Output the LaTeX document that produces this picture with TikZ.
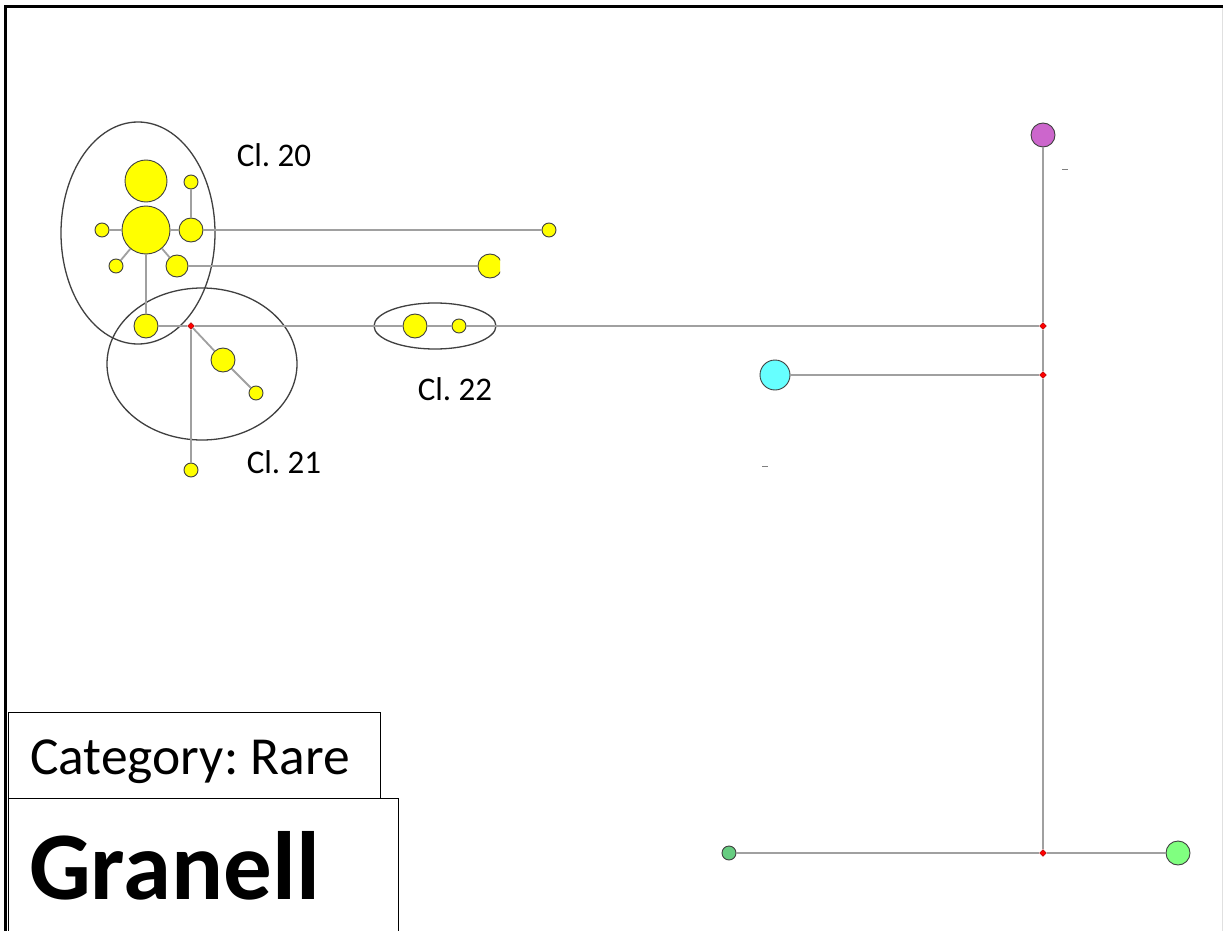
\documentclass[tikz,border=0pt]{standalone}
\usepackage{fontspec}
\setmainfont{Carlito}
\usetikzlibrary{shapes.geometric,positioning}
\frenchspacing

\definecolor{hapyellow}{RGB}{255,255,0}
\definecolor{hapviolet}{RGB}{204,102,204}
\definecolor{hapcyan}{RGB}{102,255,255}
\definecolor{hapgreen}{RGB}{128,255,128}
\definecolor{hapdkgreen}{RGB}{102,204,128}
\definecolor{edgegray}{RGB}{160,160,160}

\begin{document}
\begin{tikzpicture}[
    x=1pt, y=-1pt,
    hap/.style={circle, draw=black!75, line width=0.9pt, inner sep=0pt, fill=hapyellow},
    med/.style={diamond, fill=red, draw=red!60!black, line width=0.3pt, inner sep=0pt, minimum size=7pt},
    edge/.style={draw=edgegray, line width=1.8pt},
    clus/.style={draw=black!75, line width=1.3pt},
    lbl/.style={font=\fontsize{33}{36}\selectfont, inner sep=0pt},
    box/.style={draw, line width=1.3pt, fill=white, anchor=north west, inner sep=0pt}
]
\useasboundingbox (0,0) rectangle (1224,931);
\fill[white] (0,0) rectangle (1224,931);

% frame
\draw[line width=3pt] (5,931) -- (5,7) -- (1223,7);
\draw[black!12, line width=1pt] (1222,8) -- (1222,931);

% cluster outlines
\draw[clus] (138,233) ellipse [x radius=77, y radius=111];
\draw[clus] (202,364) ellipse [x radius=95, y radius=76];
\draw[clus] (435,326) ellipse [x radius=61, y radius=23];

% median vectors
\node[med] (m1) at (191,326) {};
\node[med] (m2) at (1043,326) {};
\node[med] (m3) at (1043,375) {};
\node[med] (m4) at (1043,853) {};

% haplotypes, Cl. 20
\node[hap, minimum size=42pt] (h1) at (146,181) {};
\node[hap, minimum size=48pt] (h2) at (146,230) {};
\node[hap, minimum size=14pt] (h3) at (191,182) {};
\node[hap, minimum size=24pt] (h4) at (191,230) {};
\node[hap, minimum size=14pt] (h5) at (102,230) {};
\node[hap, minimum size=14pt] (h6) at (116,266) {};
\node[hap, minimum size=22pt] (h7) at (177,266) {};
\node[hap, minimum size=24pt] (h8) at (146,326) {};
\node[hap, minimum size=14pt] (h9) at (549,230) {};
% Cl. 21
\node[hap, minimum size=24pt] (h10) at (223,360) {};
\node[hap, minimum size=14pt] (h11) at (256,393) {};
\node[hap, minimum size=14pt] (h12) at (191,470) {};
% Cl. 22
\node[hap, minimum size=24pt] (h13) at (415,326) {};
\node[hap, minimum size=14pt] (h14) at (459,326) {};
% others
\node[hap, fill=hapviolet, minimum size=24pt] (h15) at (1043,135) {};
\node[hap, fill=hapcyan, minimum size=30pt] (h16) at (775,375) {};
\node[hap, fill=hapdkgreen, minimum size=14pt] (h17) at (729,853) {};
\node[hap, fill=hapgreen, minimum size=24pt] (h18) at (1178,853) {};

% haplotype cut off at x=500
\begin{scope}
\clip (470,240) rectangle (500,290);
\node[hap, minimum size=24pt] (h19) at (490,266) {};
\end{scope}

% links
\path[edge] (h2) -- (h5);
\path[edge] (h2) -- (h4);
\path[edge] (h4) -- (h3);
\path[edge] (h2) -- (h6);
\path[edge] (h2) -- (h7);
\path[edge] (h2) -- (h8);
\path[edge] (h4) -- (h9);
\path[edge] (h7) -- (h19.west);
\path[edge] (h8) -- (m1);
\path[edge] (m1) -- (h13);
\path[edge] (h13) -- (h14);
\path[edge] (h14) -- (m2);
\path[edge] (m1) -- (h10);
\path[edge] (h10) -- (h11);
\path[edge] (m1) -- (h12);
\path[edge] (h15) -- (m2);
\path[edge] (m2) -- (m3);
\path[edge] (m3) -- (m4);
\path[edge] (h16) -- (m3);
\path[edge] (h17) -- (m4);
\path[edge] (m4) -- (h18);

% small marks
\draw[black!50, line width=1pt] (1062,170) -- (1068,170);
\draw[black!50, line width=1pt] (762,466) -- (768,466);

% cluster labels
\node[lbl] (c20) at (274,155) {Cl. 20};
\node[lbl] (c21) at (284,462) {Cl. 21};
\node[lbl] (c22) at (455,389) {Cl. 22};

% title boxes
\node[box, minimum width=372pt, minimum height=86pt] (cat) at (8,712) {};
\node[box, minimum width=390pt, minimum height=140pt] (pop) at (8,798) {};
\node[anchor=base west, inner sep=0pt, font=\fontsize{53.5}{57}\selectfont] (catlbl) at (30,774)
    {Category: Rare};
\node[anchor=base west, inner sep=0pt, font=\fontsize{97}{101}\selectfont\bfseries] (poplbl) at (29,899)
    {Granell};
\end{tikzpicture}
\end{document}
